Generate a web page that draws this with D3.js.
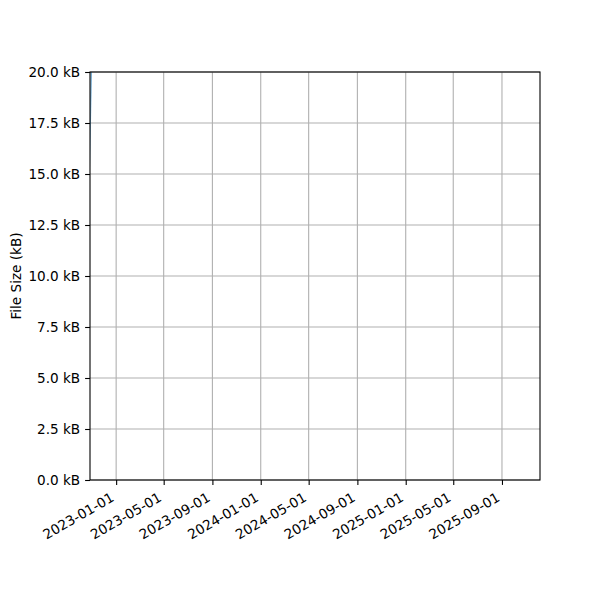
<!DOCTYPE html>
<html>
<head>
<meta charset="utf-8">
<script src="https://cdn.jsdelivr.net/npm/d3@7"></script>
<style>
   body { margin: 0; background: #fff; }
   text { font-family: "DejaVu Sans", sans-serif; }
</style>
</head>
<body>
<div id="chart"></div>
<script>
const DATES = ["2022-10-25", "2022-11-03"];
const SIZES_KB = [15.2, 23.4];
const X_DOMAIN = ["2022-10-27", "2025-12-06"];
const X_TICKS = ["2023-01-01", "2023-05-01", "2023-09-01", "2024-01-01", "2024-05-01",
   "2024-09-01", "2025-01-01", "2025-05-01", "2025-09-01"];
const Y_TICKS = [0, 2.5, 5, 7.5, 10, 12.5, 15, 17.5, 20];
const Y_LABEL = "File Size (kB)";

const WIDTH = 600;
const HEIGHT = 600;
const LEFT = 90, RIGHT = 540, TOP = 72, BOTTOM = 480;
const FONT_SIZE = 13.6;
const TICK_LEN = 4.9;
const TICK_PAD = 4.9;

const parse = d3.utcParse("%Y-%m-%d");

const svg = d3.select("#chart")
   .append("svg")
   .attr("width", WIDTH)
   .attr("height", HEIGHT);

svg.append("rect").attr("width", WIDTH).attr("height", HEIGHT).attr("fill", "#fff");

const x = d3.scaleUtc()
   .domain(X_DOMAIN.map(parse))
   .range([LEFT, RIGHT]);
const y = d3.scaleLinear()
   .domain([0, 20])
   .range([BOTTOM, TOP]);

// grid
svg.append("g")
   .selectAll("line")
   .data(X_TICKS.map(parse))
   .join("line")
   .attr("x1", d => x(d)).attr("x2", d => x(d))
   .attr("y1", TOP).attr("y2", BOTTOM)
   .attr("stroke", "#b0b0b0").attr("stroke-width", 1.1);
svg.append("g")
   .selectAll("line")
   .data(Y_TICKS)
   .join("line")
   .attr("x1", LEFT).attr("x2", RIGHT)
   .attr("y1", d => y(d)).attr("y2", d => y(d))
   .attr("stroke", "#b0b0b0").attr("stroke-width", 1.1);

// data line, clipped to the axes box
svg.append("clipPath").attr("id", "clip")
   .append("rect")
   .attr("x", LEFT).attr("y", TOP)
   .attr("width", RIGHT - LEFT).attr("height", BOTTOM - TOP);

const line = d3.line()
   .x((d, i) => x(parse(DATES[i])))
   .y(d => y(d));
svg.append("path")
   .attr("clip-path", "url(#clip)")
   .attr("d", line(SIZES_KB))
   .attr("fill", "none")
   .attr("stroke", "#1f77b4")
   .attr("stroke-width", 1.5)
   .attr("stroke-opacity", 0.6);

// y axis
const yAxis = svg.append("g")
   .attr("transform", `translate(${LEFT},0)`)
   .call(d3.axisLeft(y)
      .tickValues(Y_TICKS)
      .tickSize(TICK_LEN)
      .tickPadding(TICK_PAD)
      .tickFormat(d => d3.format(".1f")(d) + " kB"));
yAxis.select(".domain").remove();
yAxis.selectAll("line").attr("stroke", "#000").attr("stroke-width", 1.1);
yAxis.selectAll("text")
   .attr("font-size", FONT_SIZE)
   .attr("font-family", "DejaVu Sans")
   .attr("fill", "#000");

// x axis, labels rotated like autofmt_xdate
const xAxis = svg.append("g")
   .attr("transform", `translate(0,${BOTTOM})`)
   .call(d3.axisBottom(x)
      .tickValues(X_TICKS.map(parse))
      .tickSize(TICK_LEN)
      .tickFormat(d3.utcFormat("%Y-%m-%d")));
xAxis.select(".domain").remove();
xAxis.selectAll("line").attr("stroke", "#000").attr("stroke-width", 1.1);
const ascent = FONT_SIZE * 0.8;
const descent = FONT_SIZE * 0.24;
xAxis.selectAll("text")
   .attr("font-size", FONT_SIZE)
   .attr("font-family", "DejaVu Sans")
   .attr("fill", "#000")
   .attr("text-anchor", "end")
   .attr("dy", null)
   .attr("y", null)
   .attr("transform", `translate(${-descent / 2},${TICK_LEN + TICK_PAD + ascent * 0.866 + 1}) rotate(-30)`);

// spines
svg.append("rect")
   .attr("x", LEFT).attr("y", TOP)
   .attr("width", RIGHT - LEFT).attr("height", BOTTOM - TOP)
   .attr("fill", "none")
   .attr("stroke", "#000")
   .attr("stroke-width", 1.1);

// y label
svg.append("text")
   .attr("transform", `translate(16,${(TOP + BOTTOM) / 2}) rotate(-90)`)
   .attr("text-anchor", "middle")
   .attr("dy", "0.35em")
   .attr("font-size", FONT_SIZE)
   .attr("fill", "#000")
   .text(Y_LABEL);
</script>
</body>
</html>
